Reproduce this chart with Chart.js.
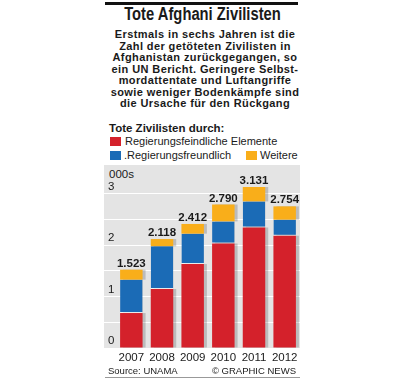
<!DOCTYPE html>
<html>
<head>
<meta charset="utf-8">
<script src="https://cdn.jsdelivr.net/npm/chart.js"></script>
<style>
  body { margin: 0; width: 404px; height: 380px; background: #fff; font-family: "Liberation Sans", Arial, sans-serif; color: #1a1a1a; position: relative; overflow: hidden; }
  .abs { position: absolute; white-space: nowrap; }
  #rule { left: 105px; top: 2px; width: 193px; height: 3px; background: #111; }
  #title { left: 105px; top: 4px; width: 195px; text-align: center; font-weight: bold; font-size: 18px; line-height: 20px; transform: scaleX(0.82); transform-origin: 97.5px 0; }
  #sub { left: 100px; top: 29px; width: 210px; text-align: center; font-weight: bold; font-size: 11px; letter-spacing: 0.4px; line-height: 11.55px; }
  #legtitle { left: 109px; top: 121px; font-weight: bold; font-size: 11.5px; line-height: 14px; }
  .sw { position: absolute; width: 11px; height: 9px; }
  .lt { position: absolute; font-size: 11px; line-height: 14px; white-space: nowrap; }
  #plotbg { left: 104px; top: 165px; width: 196px; height: 183px; background: #e4e4e4; }
  #unit { left: 109px; top: 167px; font-size: 11.5px; line-height: 14px; }
  #box { position: absolute; left: 104px; top: 160px; width: 200px; height: 208px; }
  #src { left: 108px; top: 365px; font-size: 9.5px; line-height: 11px; }
  #cr { right: 108px; top: 365px; font-size: 9.5px; line-height: 11px; }
  #bline { left: 105px; top: 377px; width: 195px; height: 1px; background: #999; }
</style>
</head>
<body>
<div class="abs" id="rule"></div>
<div class="abs" id="title">Tote Afghani Zivilisten</div>
<div class="abs" id="sub">Erstmals in sechs Jahren ist die<br>Zahl der getöteten Zivilisten in<br>Afghanistan zurückgegangen, so<br>ein UN Bericht. Geringere Selbst-<br>mordattentate und Luftangriffe<br>sowie weniger Bodenkämpfe sind<br>die Ursache für den Rückgang</div>
<div class="abs" id="legtitle">Tote Zivilisten durch:</div>
<div id="legend"></div>
<div class="abs" id="plotbg"></div>
<div class="abs" id="unit">000s</div>
<div id="box"><canvas id="myChart" width="200" height="208"></canvas></div>
<div class="abs" id="src">Source: UNAMA</div>
<div class="abs" id="cr">© GRAPHIC NEWS</div>
<div class="abs" id="bline"></div>
<script>
const years = ['2007', '2008', '2009', '2010', '2011', '2012'];
const seriesNames = ['Regierungsfeindliche Elemente', '.Regierungsfreundlich', 'Weitere'];
const seriesColors = ['#d4212b', '#1b6bb6', '#f9ae1a'];
const antiGov = [680, 1147, 1633, 2034, 2345, 2184];
const proGov = [649, 830, 590, 428, 505, 311];
const other = [194, 141, 189, 328, 281, 259];
const yTicks = [0, 1000, 2000, 3000];

// legend, same layout as the print version: 1 item first row, 2 items second row
const legPos = [[110, 137, 125], [110, 151, 124], [246, 151, 260]];
const legend = document.getElementById('legend');
seriesNames.forEach((name, i) => {
    const p = legPos[i];
    legend.innerHTML += '<div class="sw" style="left:' + p[0] + 'px;top:' + p[1] + 'px;background:' + seriesColors[i] + '"></div>'
        + '<div class="lt" style="left:' + p[2] + 'px;top:' + (p[1] - 3) + 'px">' + name + '</div>';
});

function fmt(v) {
    return String(v).replace(/\B(?=(\d{3})+(?!\d))/g, '.');
}

const totalLabels = {
    id: 'totalLabels',
    afterDatasetsDraw(chart) {
        const ctx = chart.ctx;
        const meta = chart.getDatasetMeta(2);
        ctx.save();
        ctx.font = 'bold 11.5px "Liberation Sans", Arial, sans-serif';
        ctx.fillStyle = '#1a1a1a';
        ctx.textAlign = 'center';
        ctx.textBaseline = 'alphabetic';
        meta.data.forEach((bar, i) => {
            const total = antiGov[i] + proGov[i] + other[i];
            ctx.fillText(fmt(total), bar.x, bar.y - 3);
        });
        ctx.restore();
    }
};

const barShadow = {
    id: 'barShadow',
    beforeDatasetsDraw(chart) {
        chart.ctx.save();
        chart.ctx.shadowColor = 'rgba(0,0,0,0.18)';
        chart.ctx.shadowOffsetX = 3;
        chart.ctx.shadowOffsetY = 0;
        chart.ctx.shadowBlur = 0;
    },
    afterDatasetsDraw(chart) {
        chart.ctx.restore();
    }
};

const ctx = document.getElementById('myChart').getContext('2d');
new Chart(ctx, {
    type: 'bar',
    data: {
        labels: years,
        datasets: [
            { label: seriesNames[0], data: antiGov, backgroundColor: seriesColors[0] },
            { label: seriesNames[1], data: proGov, backgroundColor: seriesColors[1], borderColor: 'rgba(255,255,255,0.6)', borderWidth: { bottom: 1 }, borderSkipped: false },
            { label: seriesNames[2], data: other, backgroundColor: seriesColors[2] }
        ]
    },
    options: {
        responsive: false,
        animation: false,
        barPercentage: 0.733,
        categoryPercentage: 1,
        layout: { padding: { top: 8, right: 4, left: 4, bottom: 0 } },
        plugins: {
            legend: { display: false },
            tooltip: { enabled: false }
        },
        scales: {
            x: {
                stacked: true,
                grid: { display: false, drawTicks: false },
                border: { display: false },
                ticks: { color: '#1a1a1a', padding: 3, maxRotation: 0, minRotation: 0, autoSkip: false, font: { family: '"Liberation Sans", Arial, sans-serif', size: 11.5 } },
                afterFit: (scale) => { scale.height = 20; }
            },
            y: {
                stacked: true,
                min: 0,
                max: 3500,
                grid: { color: (c) => c.tick.value >= 3500 ? 'rgba(0,0,0,0)' : '#ffffff', lineWidth: 1, tickLength: 12 },
                border: { display: false },
                ticks: {
                    stepSize: 500,
                    crossAlign: 'far',
                    padding: 0,
                    labelOffset: -7,
                    color: '#1a1a1a',
                    font: { family: '"Liberation Sans", Arial, sans-serif', size: 11.5 },
                    callback: (v) => yTicks.includes(v) ? String(v / 1000) : ''
                },
                afterFit: (scale) => { scale.width = 8; }
            }
        }
    },
    plugins: [barShadow, totalLabels]
});
</script>
</body>
</html>
